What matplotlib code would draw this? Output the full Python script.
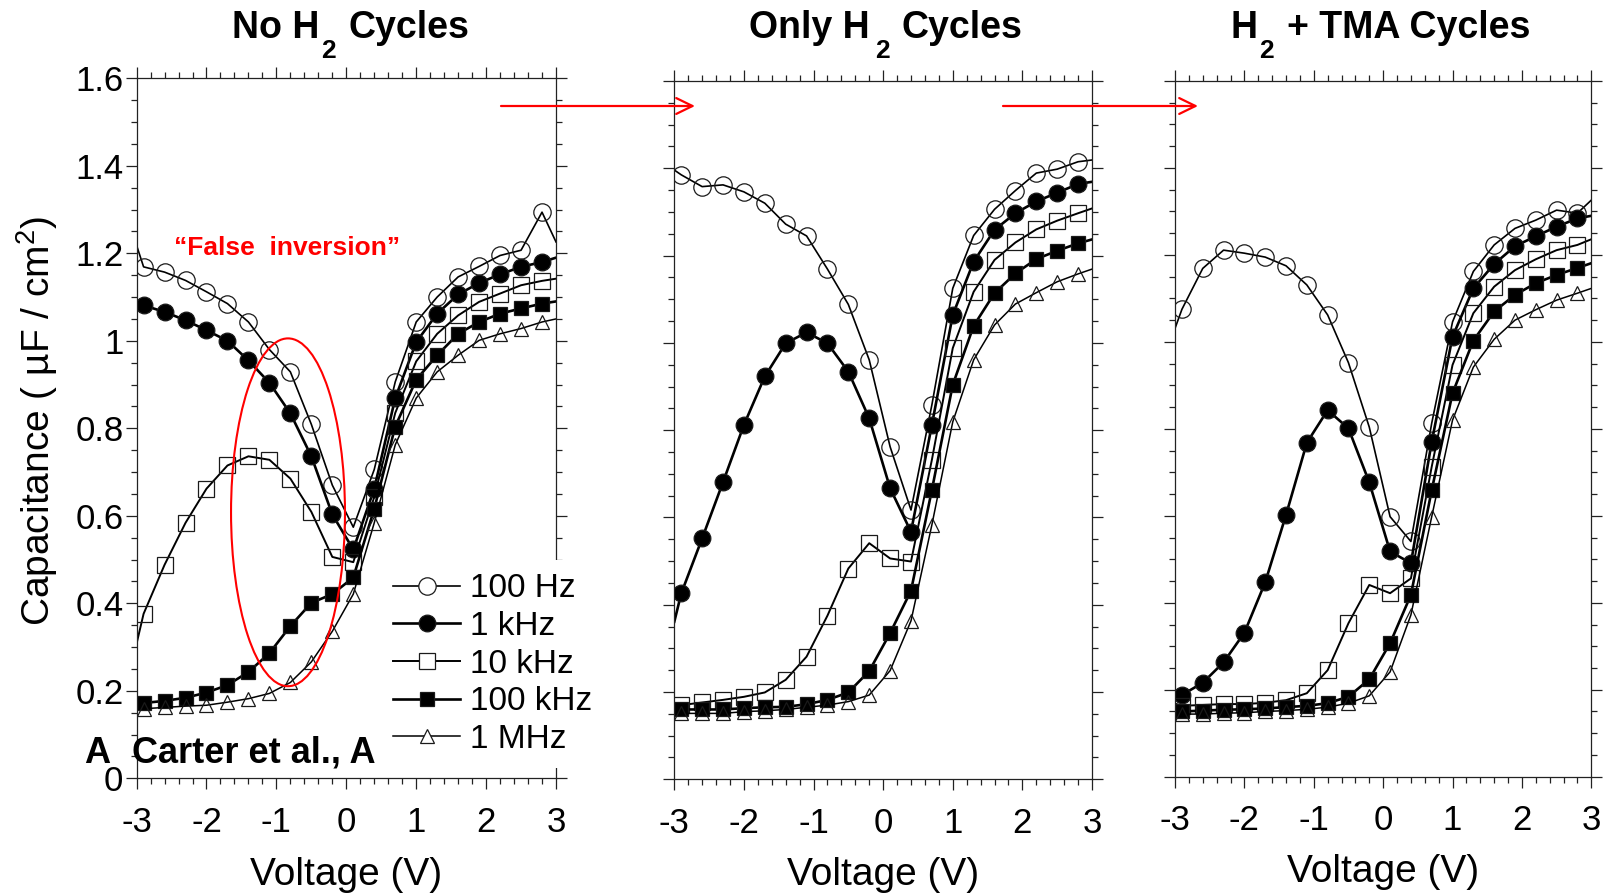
import matplotlib.pyplot as plt
from matplotlib.lines import Line2D
from matplotlib.patches import Ellipse, FancyArrowPatch
from matplotlib.ticker import MultipleLocator

plt.rcParams['font.family'] = ['Liberation Sans', 'DejaVu Sans']
plt.rcParams['mathtext.fontset'] = 'custom'
plt.rcParams['mathtext.rm'] = 'Liberation Sans'
plt.rcParams['mathtext.it'] = 'Liberation Sans:italic'
plt.rcParams['mathtext.bf'] = 'Liberation Sans:bold'
plt.rcParams['axes.unicode_minus'] = False

W, H = 1608, 893

# gate bias (V); markers sit on the 0.3 V grid, the end points only carry the line
volts = [-3.0, -2.9, -2.6, -2.3, -2.0, -1.7, -1.4, -1.1, -0.8, -0.5, -0.2,
         0.1, 0.4, 0.7, 1.0, 1.3, 1.6, 1.9, 2.2, 2.5, 2.8, 3.0]

# capacitance (uF/cm2) - no H2 cycles
no_h2_100hz = [1.218, 1.169, 1.157, 1.138, 1.112, 1.085, 1.043, 0.980, 0.929, 0.809, 0.670,
               0.574, 0.706, 0.906, 1.043, 1.100, 1.146, 1.170, 1.195, 1.207, 1.294, 1.226]
no_h2_1khz = [1.088, 1.081, 1.066, 1.047, 1.024, 1.000, 0.955, 0.904, 0.834, 0.736, 0.603,
              0.523, 0.662, 0.869, 0.997, 1.062, 1.106, 1.132, 1.152, 1.169, 1.180, 1.190]
no_h2_10khz = [0.308, 0.376, 0.488, 0.584, 0.662, 0.715, 0.736, 0.728, 0.685, 0.609, 0.506,
               0.494, 0.643, 0.835, 0.953, 1.016, 1.058, 1.089, 1.108, 1.127, 1.137, 1.142]
no_h2_100khz = [0.168, 0.172, 0.177, 0.184, 0.196, 0.213, 0.243, 0.286, 0.348, 0.401, 0.421,
                0.459, 0.616, 0.804, 0.911, 0.967, 1.016, 1.043, 1.062, 1.074, 1.085, 1.090]
no_h2_1mhz = [0.157, 0.159, 0.162, 0.165, 0.167, 0.174, 0.182, 0.194, 0.219, 0.266, 0.336,
              0.421, 0.584, 0.762, 0.869, 0.929, 0.967, 1.001, 1.016, 1.028, 1.043, 1.050]

# only H2 cycles
h2_100hz = [1.396, 1.385, 1.358, 1.362, 1.346, 1.320, 1.272, 1.245, 1.169, 1.088, 0.961,
            0.762, 0.617, 0.858, 1.125, 1.246, 1.306, 1.349, 1.389, 1.398, 1.415, 1.419]
h2_1khz = [0.361, 0.426, 0.552, 0.681, 0.812, 0.923, 0.999, 1.024, 0.999, 0.934, 0.827,
           0.667, 0.567, 0.812, 1.064, 1.186, 1.259, 1.297, 1.324, 1.344, 1.364, 1.369]
h2_10khz = [0.166, 0.170, 0.176, 0.182, 0.189, 0.199, 0.228, 0.281, 0.375, 0.483, 0.541,
            0.506, 0.499, 0.732, 0.988, 1.117, 1.190, 1.230, 1.260, 1.280, 1.297, 1.308]
h2_100khz = [0.160, 0.160, 0.160, 0.160, 0.163, 0.165, 0.166, 0.172, 0.182, 0.199, 0.248,
             0.335, 0.432, 0.663, 0.904, 1.039, 1.114, 1.159, 1.192, 1.211, 1.228, 1.237]
h2_1mhz = [0.151, 0.151, 0.151, 0.151, 0.155, 0.157, 0.160, 0.165, 0.170, 0.178, 0.193,
           0.249, 0.363, 0.583, 0.819, 0.961, 1.041, 1.089, 1.115, 1.140, 1.158, 1.169]

# H2 + TMA cycles
tma_100hz = [1.031, 1.075, 1.169, 1.211, 1.204, 1.195, 1.175, 1.131, 1.062, 0.952, 0.804,
             0.598, 0.541, 0.813, 1.046, 1.162, 1.223, 1.261, 1.280, 1.303, 1.296, 1.326]
tma_1khz = [0.178, 0.188, 0.216, 0.263, 0.331, 0.447, 0.602, 0.768, 0.843, 0.801, 0.677,
            0.518, 0.491, 0.770, 1.012, 1.123, 1.179, 1.220, 1.243, 1.265, 1.284, 1.290]
tma_10khz = [0.168, 0.163, 0.165, 0.167, 0.167, 0.170, 0.176, 0.192, 0.245, 0.353, 0.441,
             0.422, 0.456, 0.713, 0.947, 1.066, 1.127, 1.165, 1.190, 1.211, 1.223, 1.236]
tma_100khz = [0.149, 0.150, 0.152, 0.154, 0.155, 0.157, 0.160, 0.163, 0.169, 0.184, 0.224,
              0.307, 0.418, 0.659, 0.882, 1.003, 1.070, 1.108, 1.135, 1.154, 1.170, 1.181]
tma_1mhz = [0.143, 0.144, 0.144, 0.146, 0.147, 0.150, 0.152, 0.155, 0.160, 0.169, 0.186,
            0.241, 0.372, 0.598, 0.820, 0.942, 1.006, 1.050, 1.074, 1.096, 1.112, 1.123]

freq_names = ['100 Hz', '1 kHz', '10 kHz', '100 kHz', '1 MHz']
volt_ticks = [-3, -2, -1, 0, 1, 2, 3]
volt_tick_labels = ['-3', '-2', '-1', '0', '1', '2', '3']
cap_ticks = [0, 0.2, 0.4, 0.6, 0.8, 1.0, 1.2, 1.4, 1.6]
cap_tick_labels = ['0', '0.2', '0.4', '0.6', '0.8', '1', '1.2', '1.4', '1.6']

# marker, filled, marker size, line width for each frequency
styles = [('o', False, 12.5, 1.2),
          ('o', True, 12.0, 1.9),
          ('s', False, 11.5, 1.4),
          ('s', True, 9.5, 1.9),
          ('^', False, 10.0, 1.1)]

fig = plt.figure(figsize=(W / 100, H / 100), dpi=100)


def fx(x):
    return x / W


def fy(y):
    return 1 - y / H


def draw_panel(box, curves, show_ylabels, xlabel_y):
    l, t, r, b = box
    ax = fig.add_axes([fx(l), fy(b), (r - l) / W, (b - t) / H])
    for vals, (mk, full, ms, lw) in zip(curves, styles):
        ax.plot(volts, vals, color='k', lw=lw, marker=mk, ms=ms,
                mfc='k' if full else 'none', mec='#1a1a1a', mew=0.9,
                markevery=slice(1, -1))
    ax.set_xlim(-3, 3)
    ax.set_ylim(0, 1.6)
    ax.set_xticks(volt_ticks, volt_tick_labels)
    ax.set_yticks(cap_ticks, cap_tick_labels if show_ylabels else [])
    ax.xaxis.set_minor_locator(MultipleLocator(0.2))
    ax.yaxis.set_minor_locator(MultipleLocator(0.05))
    ax.tick_params(which='both', direction='out', top=True, right=True,
                   width=0.9, color='#222222')
    ax.tick_params(which='major', length=8)
    ax.tick_params(which='minor', length=4)
    ax.tick_params(axis='x', labelsize=25, pad=12)
    ax.tick_params(axis='y', labelsize=25, pad=1.5)
    for sp in ax.spines.values():
        sp.set_linewidth(0.9)
        sp.set_color('#222222')
    fig.text(fx((l + r) / 2), fy(xlabel_y), 'Voltage (V)', ha='center',
             va='center', fontsize=28)
    return ax


def panel_title(head, head_right, sub_left, tail, tail_left):
    fig.text(fx(head_right), fy(37.5), head, ha='right', va='baseline',
             fontsize=27, weight='bold')
    fig.text(fx(sub_left), fy(58.5), '2', ha='left', va='baseline',
             fontsize=19, weight='bold')
    fig.text(fx(tail_left), fy(37.5), tail, ha='left', va='baseline',
             fontsize=27, weight='bold')


ax1 = draw_panel((136.6, 78.3, 556.0, 778.3),
                 [no_h2_100hz, no_h2_1khz, no_h2_10khz, no_h2_100khz, no_h2_1mhz],
                 True, 875)
ax2 = draw_panel((674.3, 81.0, 1092.0, 779.3),
                 [h2_100hz, h2_1khz, h2_10khz, h2_100khz, h2_1mhz],
                 False, 875)
ax3 = draw_panel((1175.0, 81.0, 1591.3, 776.7),
                 [tma_100hz, tma_1khz, tma_10khz, tma_100khz, tma_1mhz],
                 False, 872)

panel_title('No H', 319.5, 321.5, 'Cycles', 349)
panel_title('Only H', 870, 875, 'Cycles', 901.7)
panel_title('H', 1257.3, 1259.3, '+ TMA Cycles', 1286.7)

fig.text(fx(37), fy(421), 'Capacitance ( µF / cm$^{2}$)', rotation=90,
         ha='center', va='center', fontsize=28)

# legend with white-filled symbols, spilling past the first panel's right edge
handles = [Line2D([], [], color='k', lw=lw, marker=mk, ms=ms,
                  mfc='k' if full else 'white', mec='#1a1a1a', mew=0.9)
           for mk, full, ms, lw in styles]
leg = ax1.legend(handles, freq_names, loc='upper left',
                 bbox_to_anchor=(fx(380), fy(560)), bbox_transform=fig.transFigure,
                 fontsize=24, frameon=True, facecolor='white', edgecolor='none',
                 framealpha=1, fancybox=False, borderpad=0.4, borderaxespad=0,
                 handlelength=2.0, handletextpad=0.3, labelspacing=0.2,
                 numpoints=1)
leg.set_zorder(6)

# false inversion region
ax1.add_patch(Ellipse((-0.834, 0.608), 1.63, 0.795, fill=False, ec='red',
                      lw=1.5, clip_on=False, zorder=4))
fig.text(fx(174), fy(255), '\u201cFalse  inversion\u201d', color='red',
         weight='bold', fontsize=19)

fig.text(fx(84), fy(763), 'A', weight='bold', fontsize=26)
fig.text(fx(132), fy(763), 'Carter et al., A', weight='bold', fontsize=26)

# arrows linking the panels
for x0, x1 in [(501, 695), (1003, 1198)]:
    fig.add_artist(FancyArrowPatch((fx(x0), fy(106)), (fx(x1), fy(106)),
                                   transform=fig.transFigure,
                                   arrowstyle='->,head_length=0.45,head_width=0.22',
                                   mutation_scale=26, color='red', lw=1.6,
                                   shrinkA=0, shrinkB=0))

fig.savefig('out.png', dpi=100)
